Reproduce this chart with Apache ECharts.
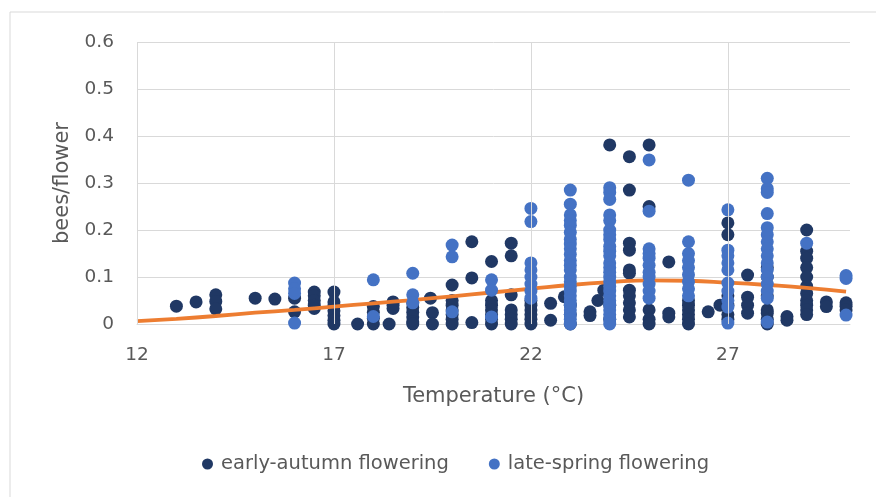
<!DOCTYPE html>
<html><head><meta charset="utf-8">
<script src="https://cdn.jsdelivr.net/npm/echarts@6/dist/echarts.min.js"></script>
<style>html,body{margin:0;padding:0;background:#fff}#c{width:876px;height:497px}</style>
</head><body><div id="c"></div>
<script>
// early-autumn flowering: [temperature °C, bees/flower]
const autumnPoints = [
  [13,0.038],[13.5,0.047],[14,0.062],[14,0.048],[14,0.032],[15,0.055],[15.5,0.053],
  [16,0.055],[16,0.026],
  [16.5,0.068],[16.5,0.06],[16.5,0.05],[16.5,0.04],[16.5,0.033],
  [17,0.068],[17,0.047],[17,0.038],[17,0.028],[17,0.018],[17,0.008],[17,0],
  [17.6,0],[18,0.037],[18,0.025],[18,0.012],[18,0],[18.4,0],
  [18.5,0.047],[18.5,0.04],[18.5,0.033],
  [19,0.045],[19,0.035],[19,0.025],[19,0.015],[19,0.005],[19,0],
  [19.45,0.055],[19.5,0.024],[19.5,0],
  [20,0.083],[20,0.05],[20,0.04],[20,0.03],[20,0.02],[20,0.01],[20,0],
  [20.5,0.175],[20.5,0.098],[20.5,0.003],
  [21,0.133],[21,0.05],[21,0.04],[21,0.03],[21,0.02],[21,0.01],[21,0],
  [21.5,0.172],[21.5,0.145],[21.5,0.062],[21.5,0.03],[21.5,0.02],[21.5,0.01],[21.5,0],
  [22,0.05],[22,0.04],[22,0.03],[22,0.02],[22,0.01],[22,0],
  [22.5,0.044],[22.5,0.008],[22.85,0.058],
  [23,0.04],[23,0.02],[23,0],
  [23.5,0.026],[23.5,0.018],[23.7,0.05],[23.85,0.072],
  [24,0.381],[24,0.04],[24,0.01],
  [24.5,0.356],[24.5,0.285],[24.5,0.172],[24.5,0.157],[24.5,0.115],[24.5,0.108],
  [24.5,0.072],[24.5,0.06],[24.5,0.045],[24.5,0.03],[24.5,0.015],
  [25,0.381],[25,0.25],[25,0.03],[25,0.01],[25,0],
  [25.5,0.132],[25.5,0.023],[25.5,0.015],
  [26,0.05],[26,0.04],[26,0.03],[26,0.02],[26,0.01],[26,0],
  [26.5,0.026],[26.8,0.04],
  [27,0.215],[27,0.19],[27,0.06],[27,0.04],[27,0.02],[27,0.01],
  [27.5,0.104],[27.5,0.057],[27.5,0.04],[27.5,0.023],
  [28,0.12],[28,0.1],[28,0.06],[28,0.03],[28,0.023],[28,0.01],[28,0],
  [28.5,0.016],[28.5,0.008],
  [29,0.2],[29,0.155],[29,0.14],[29,0.12],[29,0.1],[29,0.08],[29,0.065],[29,0.05],[29,0.04],[29,0.03],[29,0.02],
  [29.5,0.047],[29.5,0.037],
  [30,0.045],[30,0.038],[30,0.03]
];
// late-spring flowering: [temperature °C, bees/flower]
const springPoints = [
  [16,0.087],[16,0.075],[16,0.065],[16,0.002],
  [18,0.094],[18,0.016],
  [19,0.108],[19,0.062],[19,0.045],
  [20,0.168],[20,0.143],[20,0.026],
  [21,0.094],[21,0.072],[21,0.015],
  [22,0.246],[22,0.218],[22,0.13],[22,0.115],[22,0.1],[22,0.085],[22,0.07],[22,0.055],
  [23,0.285],[23,0.255],[23,0.232],[23,0.22],[23,0.21],[23,0.195],[23,0.18],[23,0.17],
  [23,0.16],[23,0.148],[23,0.135],[23,0.125],[23,0.115],[23,0.1],[23,0.09],[23,0.08],
  [23,0.07],[23,0.06],[23,0.05],[23,0.04],[23,0.03],[23,0.02],[23,0.01],[23,0],
  [24,0.29],[24,0.28],[24,0.265],[24,0.232],[24,0.22],[24,0.2],[24,0.19],[24,0.18],
  [24,0.165],[24,0.155],[24,0.145],[24,0.13],[24,0.12],[24,0.11],[24,0.1],[24,0.09],
  [24,0.08],[24,0.07],[24,0.06],[24,0.05],[24,0.04],[24,0.03],[24,0.02],[24,0.01],[24,0],
  [25,0.349],[25,0.24],[25,0.16],[25,0.15],[25,0.14],[25,0.125],[25,0.11],[25,0.1],
  [25,0.085],[25,0.07],[25,0.055],
  [26,0.306],[26,0.175],[26,0.15],[26,0.135],[26,0.12],[26,0.105],[26,0.09],[26,0.075],[26,0.06],
  [27,0.243],[27,0.157],[27,0.145],[27,0.13],[27,0.115],[27,0.087],[27,0.07],[27,0.05],[27,0.036],[27,0.002],
  [28,0.31],[28,0.288],[28,0.28],[28,0.235],[28,0.205],[28,0.19],[28,0.175],[28,0.16],
  [28,0.145],[28,0.13],[28,0.115],[28,0.1],[28,0.085],[28,0.07],[28,0.055],[28,0.004],
  [29,0.172],
  [30,0.103],[30,0.097],[30,0.019]
];
// fitted trend curve
const trendT = [12,13,14,15,16,17,18,19,20,21,22,23,24,25,26,27,28,29,30];
const trendV = [0.006,0.011,0.017,0.024,0.03,0.037,0.044,0.051,0.059,0.067,0.075,0.083,0.089,0.093,0.092,0.088,0.083,0.077,0.069];
const xTicks = [12,17,22,27];

const FONT = '"DejaVu Sans", sans-serif';
const GREY = '#595959';
const chart = echarts.init(document.getElementById('c'));
chart.setOption({
  animation:false,
  textStyle:{fontFamily:FONT},
  graphic:[{type:'rect',shape:{x:10,y:12,width:880,height:500},style:{fill:'none',stroke:'#D9D9D9',lineWidth:1},silent:true,z:-1}],
  grid:{left:137,right:26,top:42,bottom:173},
  xAxis:{type:'value',min:12,max:30.1,interval:5,
    axisLine:{show:true,lineStyle:{color:'#D9D9D9'}},axisTick:{show:false},
    splitLine:{show:false},
    axisLabel:{color:GREY,fontSize:18.5,margin:22,showMaxLabel:false,fontFamily:FONT},
    name:'Temperature (°C)',nameLocation:'middle',nameGap:62,
    nameTextStyle:{color:GREY,fontSize:21,fontFamily:FONT}},
  yAxis:{type:'value',min:0,max:0.6,interval:0.1,
    axisLine:{show:false},axisTick:{show:false},
    splitLine:{lineStyle:{color:'#D9D9D9',width:1}},
    axisLabel:{color:GREY,fontSize:18.5,margin:23,fontFamily:FONT,formatter:v=>String(Math.round(v*10)/10)},
    name:'bees/flower',nameLocation:'middle',nameGap:64,
    nameTextStyle:{color:GREY,fontSize:21,fontFamily:FONT}},
  legend:{bottom:18,left:197,itemGap:40,itemWidth:11,itemHeight:11,
    textStyle:{color:GREY,fontSize:19.5,fontFamily:FONT,padding:[0,0,0,3]},
    data:[{name:'early-autumn flowering',icon:'circle'},{name:'late-spring flowering',icon:'circle'}]},
  series:[
    {type:'scatter',name:'grid',data:[],z:1,silent:true,
     markLine:{silent:true,symbol:'none',label:{show:false},animation:false,
       lineStyle:{color:'#D9D9D9',width:1,type:'solid'},
       data:xTicks.map(t=>({xAxis:t}))}},
    {type:'scatter',name:'early-autumn flowering',data:autumnPoints,symbolSize:13,
     itemStyle:{color:'#203864',opacity:1},z:2},
    {type:'line',name:'trend',data:trendT.map((t,i)=>[t,trendV[i]]),smooth:true,showSymbol:false,
     lineStyle:{color:'#ED7D31',width:3.8},z:3,silent:true},
    {type:'scatter',name:'late-spring flowering',data:springPoints,symbolSize:13,
     itemStyle:{color:'#4472C4',opacity:1},z:4}
  ]
});
</script></body></html>
